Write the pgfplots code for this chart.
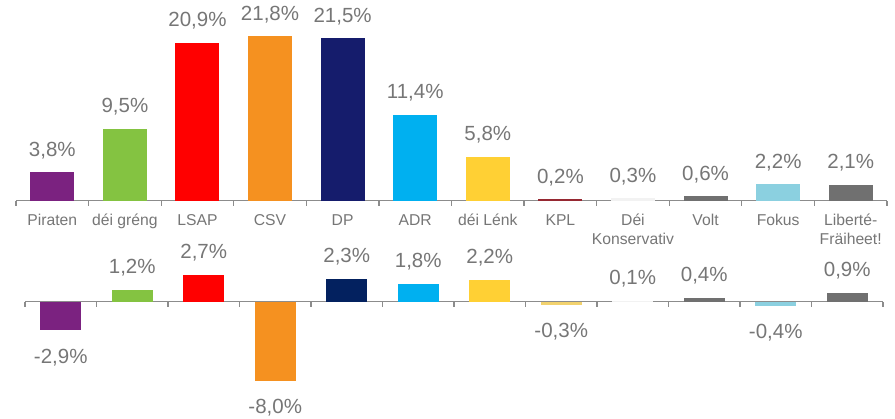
\documentclass[border=0pt]{standalone}
\usepackage{fontspec}
\setmainfont{Liberation Sans}
\usepackage{pgfplots}
\pgfplotsset{compat=1.18}
\definecolor{txt}{RGB}{118,118,118}
\definecolor{axl}{RGB}{140,140,140}
\definecolor{cPir}{RGB}{123,34,128}
\definecolor{cGre}{RGB}{132,195,65}
\definecolor{cLSAP}{RGB}{255,0,0}
\definecolor{cCSV}{RGB}{245,145,32}
\definecolor{cDP}{RGB}{21,28,108}
\definecolor{cDPb}{RGB}{3,33,95}
\definecolor{cADR}{RGB}{0,176,240}
\definecolor{cLenk}{RGB}{255,208,52}
\definecolor{cKPL}{RGB}{150,40,50}
\definecolor{cKPLb}{RGB}{242,210,110}
\definecolor{cKons}{RGB}{242,242,242}
\definecolor{cVolt}{RGB}{112,112,112}
\definecolor{cFok}{RGB}{139,208,224}
\definecolor{cLib}{RGB}{112,112,112}
\pgfplotsset{
  tb/.style={ybar, bar width=44pt, bar shift=0pt, draw=none, fill=#1},
  bb/.style={ybar, bar width=41pt, bar shift=0pt, draw=none, fill=#1},
  neg/.style={nodes near coords style={anchor=base, yshift=-49.5pt}},
}
\begin{document}
\begin{tikzpicture}
\useasboundingbox (0,0) rectangle (895pt,419pt);
\begin{axis}[
  at={(16pt,218.3pt)}, anchor=south west, scale only axis,
  width=871pt, height=166.1pt,
  xmin=-0.5, xmax=11.5, ymin=0, ymax=22,
  axis x line=bottom, axis y line=none,
  axis line style={-},
  x axis line style={-, axl, line width=1.2pt},
  xtick={-0.5,0.5,...,11.5}, xticklabels={},
  major tick length=5pt, tick align=outside,
  tick style={axl, line width=1.2pt},
  extra x ticks={0,...,11},
  extra x tick labels={\strut Piraten, \strut déi gréng, \strut LSAP, \strut CSV, \strut DP, \strut ADR, \strut déi Lénk, \strut KPL, \strut Déi\\Konservativ, \strut Volt, \strut Fokus, \strut Liberté-\\Fräiheet!},
  extra x tick style={major tick length=0pt, tick label style={anchor=north, inner sep=0pt, align=center, font=\fontsize{15.7}{19}\selectfont, text=txt, yshift=-11.5pt}},
  point meta=explicit symbolic,
  nodes near coords,
  nodes near coords style={anchor=base, yshift=16pt, inner sep=0pt, font=\fontsize{20.5}{24}\selectfont, text=txt},
  clip=false,
]
\addplot[tb=cPir] coordinates {(0,3.8) [3,8\%]};
\addplot[tb=cGre] coordinates {(1,9.5) [9,5\%]};
\addplot[tb=cLSAP] coordinates {(2,20.9) [20,9\%]};
\addplot[tb=cCSV] coordinates {(3,21.8) [21,8\%]};
\addplot[tb=cDP] coordinates {(4,21.5) [21,5\%]};
\addplot[tb=cADR] coordinates {(5,11.4) [11,4\%]};
\addplot[tb=cLenk] coordinates {(6,5.8) [5,8\%]};
\addplot[tb=cKPL] coordinates {(7,0.2) [0,2\%]};
\addplot[tb=cKons] coordinates {(8,0.3) [0,3\%]};
\addplot[tb=cVolt] coordinates {(9,0.6) [0,6\%]};
\addplot[tb=cFok] coordinates {(10,2.2) [2,2\%]};
\addplot[tb=cLib] coordinates {(11,2.1) [2,1\%]};
\end{axis}
\begin{axis}[
  at={(25pt,33.15pt)}, anchor=south west, scale only axis,
  width=858pt, height=113.85pt,
  xmin=-0.5, xmax=11.5, ymin=-8.5, ymax=3,
  axis x line=middle, axis y line=none,
  axis line style={-},
  x axis line style={-, axl, line width=1.2pt},
  xtick={-0.5,0.5,...,11.5}, xticklabels={},
  major tick length=5pt, tick align=center,
  tick style={axl, line width=1.2pt, yshift=-2.5pt},
  point meta=explicit symbolic,
  nodes near coords,
  nodes near coords style={anchor=base, yshift=16.5pt, inner sep=0pt, font=\fontsize{20.5}{24}\selectfont, text=txt},
  clip=false,
]
\addplot[bb=cPir, neg] coordinates {(0,-2.9) [-2,9\%]};
\addplot[bb=cGre] coordinates {(1,1.2) [1,2\%]};
\addplot[bb=cLSAP] coordinates {(2,2.7) [2,7\%]};
\addplot[bb=cCSV, neg] coordinates {(3,-8.0) [-8,0\%]};
\addplot[bb=cDPb] coordinates {(4,2.3) [2,3\%]};
\addplot[bb=cADR] coordinates {(5,1.8) [1,8\%]};
\addplot[bb=cLenk] coordinates {(6,2.2) [2,2\%]};
\addplot[bb=cKPLb, neg] coordinates {(7,-0.3) [-0,3\%]};
\addplot[bb=cKons] coordinates {(8,0.1) [0,1\%]};
\addplot[bb=cVolt] coordinates {(9,0.4) [0,4\%]};
\addplot[bb=cFok, neg] coordinates {(10,-0.4) [-0,4\%]};
\addplot[bb=cLib] coordinates {(11,0.9) [0,9\%]};
\end{axis}
\end{tikzpicture}
\end{document}
